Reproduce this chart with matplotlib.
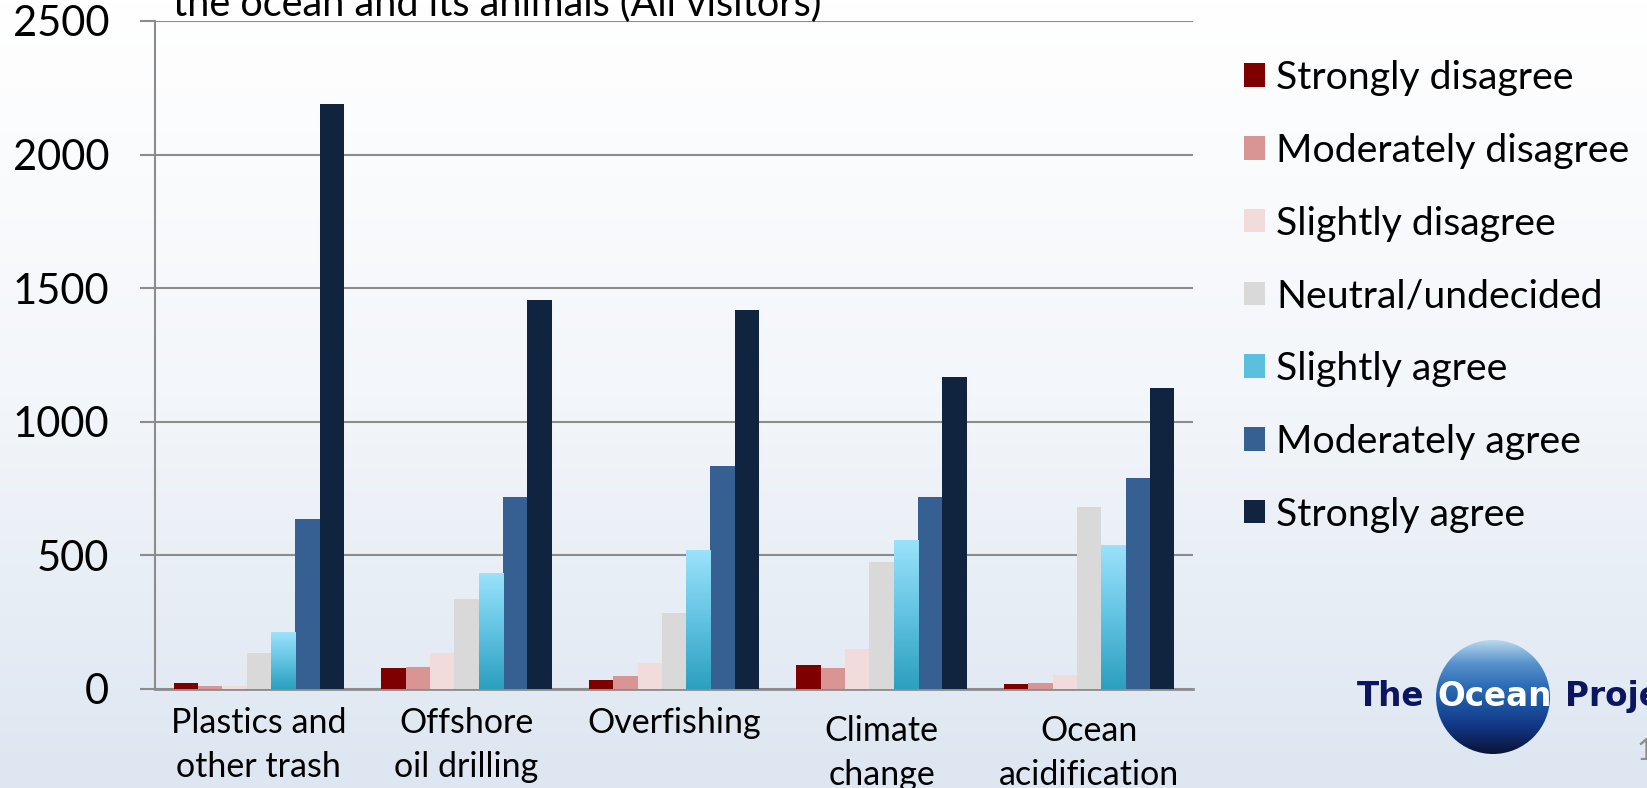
import numpy as np
import matplotlib
matplotlib.use("Agg")
import matplotlib.pyplot as plt
from matplotlib.patches import Patch, Circle
from matplotlib.colors import LinearSegmentedColormap
import matplotlib.transforms as mtransforms

categories = ["Plastics and\nother trash", "Offshore\noil drilling", "Overfishing",
              "Climate\nchange", "Ocean\nacidification"]
series_names = ["Strongly disagree", "Moderately disagree", "Slightly disagree",
                "Neutral/undecided", "Slightly agree", "Moderately agree", "Strongly agree"]
strongly_disagree = [24, 79, 35, 90, 20]
moderately_disagree = [12, 83, 47, 79, 24]
slightly_disagree = [12, 134, 98, 149, 51]
neutral = [134, 338, 283, 476, 680]
slightly_agree = [212, 436, 519, 558, 539]
moderately_agree = [637, 719, 833, 719, 790]
strongly_agree = [2190, 1454, 1419, 1167, 1128]
yticks = [0, 500, 1000, 1500, 2000, 2500]
title_text = "the ocean and its animals (All visitors)"

series = [strongly_disagree, moderately_disagree, slightly_disagree, neutral,
          slightly_agree, moderately_agree, strongly_agree]
colors = ["#7f0000", "#d99594", "#f2dcdb", "#d9d9d9", "#5bc0de", "#376092", "#10243f"]

FONT = ["Lato", "DejaVu Sans"]
W, H = 1647, 788
fig = plt.figure(figsize=(W / 100, H / 100), dpi=100)

# background gradient
bg = fig.add_axes([0, 0, 1, 1], zorder=-10)
grad = np.linspace(0, 1, 256).reshape(-1, 1)
bg_cmap = LinearSegmentedColormap.from_list("bg", ["#ffffff", "#f3f6fa", "#dde6f1"])
bg.imshow(grad, aspect="auto", cmap=bg_cmap, extent=[0, 1, 0, 1], origin="upper")
bg.set_axis_off()

ax = fig.add_axes([155 / W, 99 / H, (1193 - 155) / W, (689 - 21) / H])
ax.patch.set_alpha(0)

n = len(series)
group = 0.82
bw = group / n
x = np.arange(len(categories))
sa_cmap = LinearSegmentedColormap.from_list("sa", ["#2c9fbf", "#62c3e2", "#9be2fb"])
for i, (vals, c) in enumerate(zip(series, colors)):
    offs = x - group / 2 + bw * (i + 0.5)
    bars = ax.bar(offs, vals, width=bw, color=c, zorder=3, linewidth=0)
    if i == 4:
        for b in bars:
            xx, yy = b.get_x(), b.get_y()
            im = ax.imshow(np.linspace(0, 1, 128).reshape(-1, 1), cmap=sa_cmap, aspect="auto",
                           origin="lower", extent=[xx, xx + b.get_width(), yy, yy + b.get_height()],
                           zorder=3.5)
            im.set_clip_path(b)

ax.set_xlim(-0.5, len(categories) - 0.5)
ax.set_ylim(0, 2500)
ax.set_yticks(yticks)
ax.set_yticklabels([str(t) for t in yticks], fontsize=30, family=FONT)
ax.grid(axis="y", color="#8c8c8c", linewidth=1.5, zorder=1)
ax.set_axisbelow(True)
for s in ["top", "right"]:
    ax.spines[s].set_visible(False)
ax.spines["left"].set_color("#8c8c8c")
ax.spines["left"].set_linewidth(1.5)
ax.spines["bottom"].set_color("#8c8c8c")
ax.spines["bottom"].set_linewidth(2)
ax.tick_params(axis="y", length=11, width=1.5, color="#8c8c8c", pad=22)
ax.tick_params(axis="x", length=0, pad=13)
ax.set_xticks(x)
ax.set_xticklabels(categories, fontsize=24.5, family=FONT, linespacing=1.45)
for j, lab in enumerate(ax.get_xticklabels()):
    lab.set_verticalalignment("top")
    if j >= 3:
        lab.set_transform(lab.get_transform() +
                          mtransforms.ScaledTranslation(0, -8 / 100, fig.dpi_scale_trans))

# title (cut off at top)
fig.text(173 / W, 1 - 15.6 / H, title_text, fontsize=28.5, family=FONT,
         va="baseline", ha="left")

# legend
handles = [Patch(facecolor=c, edgecolor="none") for c in colors]
fig.legend(handles, series_names, loc="upper left", bbox_to_anchor=(1244 / W, 1 - 60 / H),
           frameon=False, prop={"family": "Lato", "size": 28.3}, handlelength=0.54,
           handleheight=0.54, handletextpad=0.28, labelspacing=0.935, borderpad=0,
           borderaxespad=0)

# logo
lg = fig.add_axes([0, 0, 1, 1], zorder=5)
lg.set_xlim(0, W)
lg.set_ylim(H, 0)
lg.set_axis_off()
lg.patch.set_alpha(0)
cx, cy, r = 1493, 697, 57
circ = Circle((cx, cy), r, transform=lg.transData, facecolor="none", edgecolor="none")
lg.add_patch(circ)
logo_cmap = LinearSegmentedColormap.from_list(
    "logo", ["#0a1433", "#10307a", "#1b4f9e", "#2d6cb6", "#5a93cc", "#b8d8ee"])
lim = lg.imshow(np.linspace(0, 1, 256).reshape(-1, 1), cmap=logo_cmap, aspect="auto",
                origin="lower", extent=[cx - r, cx + r, cy + r, cy - r], zorder=1)
lim.set_clip_path(circ)
lg.set_xlim(0, W)
lg.set_ylim(H, 0)
lg.text(1357, 706, "The", fontsize=23.5, fontweight="heavy", family="DejaVu Sans",
        color="#0b1560", va="baseline", ha="left", zorder=2)
lg.text(1437, 706, "Ocean", fontsize=23.5, fontweight="heavy", family="DejaVu Sans",
        color="white", va="baseline", ha="left", zorder=2)
lg.text(1565, 706, "Project", fontsize=23.5, fontweight="heavy", family="DejaVu Sans",
        color="#0b1560", va="baseline", ha="left", zorder=2)
lg.text(1637, 760, "1", fontsize=22, family="Lato", color="#8c8c8c",
        va="baseline", ha="left", zorder=2)

fig.savefig("out.png", dpi=100)
